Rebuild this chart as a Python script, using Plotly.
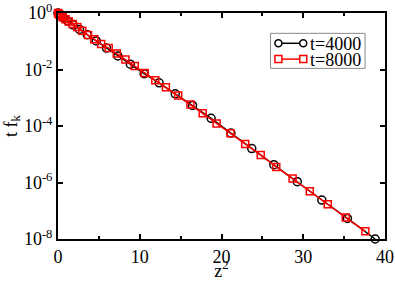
import plotly.graph_objects as go

# t = 4000 (circles): z^2 and log10(t f_k)
z2_4000 = [0, 0.073, 0.29, 0.66, 1.17, 1.83, 2.63, 3.58, 4.68, 5.93, 7.32, 8.85,
           10.54, 12.37, 14.34, 16.46, 18.73, 21.15, 23.7, 26.4, 29.27, 32.27, 35.4, 38.8]
log_tfk_4000 = [0.0, -0.03, -0.08, -0.17, -0.28, -0.42, -0.58, -0.77, -0.99, -1.24, -1.52, -1.81,
                -2.15, -2.47, -2.86, -3.27, -3.73, -4.25, -4.8, -5.37, -5.97, -6.62, -7.27, -8.0]

# t = 8000 (squares)
z2_8000 = [0, 0.037, 0.147, 0.33, 0.59, 0.92, 1.32, 1.80, 2.35, 2.97, 3.67, 4.44, 5.28,
           6.20, 7.19, 8.25, 9.39, 10.6, 11.9, 13.2, 14.7, 16.2, 17.7, 19.4, 21.1, 22.9,
           24.8, 26.7, 28.7, 30.8, 33.0, 35.2, 37.6]
log_tfk_8000 = [0.0, -0.02, -0.05, -0.1, -0.15, -0.22, -0.3, -0.39, -0.5, -0.63, -0.78, -0.93, -1.1,
                -1.24, -1.43, -1.65, -1.88, -2.12, -2.38, -2.63, -2.92, -3.24, -3.55, -3.91, -4.26, -4.64,
                -5.03, -5.45, -5.86, -6.31, -6.77, -7.24, -7.73]

series_names = ["t=4000", "t=8000"]
series_colors = ["black", "#ff0000"]
x_ticks = [0, 10, 20, 30, 40]
y_tick_vals = [1e0, 1e-2, 1e-4, 1e-6, 1e-8]
y_tick_text = ["10<sup>0</sup>", "10<sup>-2</sup>", "10<sup>-4</sup>", "10<sup>-6</sup>", "10<sup>-8</sup>"]

FONT = "Liberation Serif, Times New Roman, serif"
FS = 18

fig = go.Figure()
fig.add_trace(go.Scatter(
    x=z2_4000, y=[10 ** v for v in log_tfk_4000], name=series_names[0],
    mode="lines+markers", cliponaxis=False,
    line=dict(color=series_colors[0], width=1.5),
    marker=dict(symbol="circle-open", size=8, color=series_colors[0], line=dict(width=1.5)),
))
fig.add_trace(go.Scatter(
    x=z2_8000, y=[10 ** v for v in log_tfk_8000], name=series_names[1],
    mode="lines+markers", cliponaxis=False,
    line=dict(color=series_colors[1], width=1.5),
    marker=dict(symbol="square-open", size=7, color=series_colors[1], line=dict(width=1.5)),
))

# xmgrace-style legend box (line with a symbol at each end)
shapes = [dict(type="rect", xref="paper", yref="paper", x0=0.650, x1=0.939, y0=0.755, y1=0.910,
               line=dict(color="#888888", width=1), fillcolor="white", layer="above")]
annotations = []
rows_y = [0.866, 0.796]
mx0, mx1 = 0.674, 0.750
for i, (nm, col, yy) in enumerate(zip(series_names, series_colors, rows_y)):
    shapes.append(dict(type="line", xref="paper", yref="paper", x0=mx0, x1=mx1, y0=yy, y1=yy,
                       line=dict(color=col, width=1.5), layer="above"))
    for mx in (mx0, mx1):
        shapes.append(dict(type="circle" if i == 0 else "rect", xref="paper", yref="paper",
                           xsizemode="pixel", ysizemode="pixel", xanchor=mx, yanchor=yy,
                           x0=-3.5, x1=3.5, y0=-3.5, y1=3.5,
                           line=dict(color=col, width=1.5), fillcolor="white", layer="above"))
    annotations.append(dict(text=nm, xref="paper", yref="paper", x=0.768, y=yy,
                            xanchor="left", yanchor="middle", showarrow=False,
                            height=15, valign="middle", borderpad=0,
                            font=dict(family=FONT, size=FS, color="black")))

fig.update_layout(
    width=395, height=281,
    margin=dict(l=58, r=10, t=13, b=42),
    paper_bgcolor="white", plot_bgcolor="white",
    font=dict(family=FONT, size=FS, color="black"),
    showlegend=False,
    shapes=shapes, annotations=annotations,
)
fig.update_xaxes(
    range=[0, 40], tickvals=x_ticks, ticks="inside", ticklen=5, tickwidth=1.5,
    tickcolor="black", showline=True, linecolor="black", linewidth=2, mirror="ticks",
    showgrid=False, zeroline=False, automargin=False,
    minor=dict(dtick=5, ticks="inside", ticklen=3, tickwidth=1.5, tickcolor="black"),
    title=dict(text="z<sup>2</sup>", font=dict(family=FONT, size=FS), standoff=5),
    tickfont=dict(family=FONT, size=FS),
)
fig.update_yaxes(
    type="log", range=[-8, 0], tickvals=y_tick_vals, ticktext=y_tick_text,
    ticks="inside", ticklen=5, tickwidth=1.5, tickcolor="black",
    showline=True, linecolor="black", linewidth=2, mirror="ticks",
    showgrid=False, zeroline=False, automargin=False,
    title=dict(text="t f<sub>k</sub>", font=dict(family=FONT, size=FS), standoff=2),
    tickfont=dict(family=FONT, size=FS),
)

fig.write_html(
    "out.html",
    config={"displayModeBar": False},
    post_script="document.body.style.margin='0';document.body.style.padding='0';",
)
